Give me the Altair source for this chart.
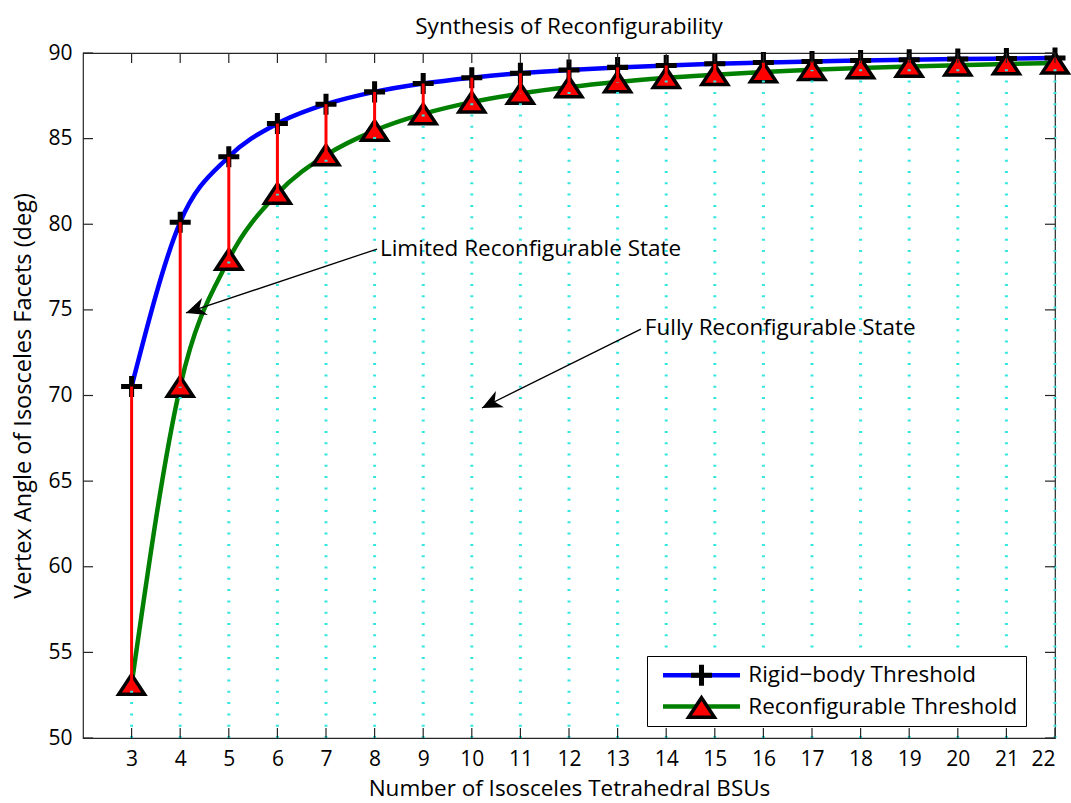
import altair as alt
import pandas as pd

# ---------------- data ----------------
N = list(range(3, 23))
RIGID = [70.53, 80.12, 83.94, 85.88, 87.01, 87.73, 88.22, 88.56, 88.82, 89.01,
         89.16, 89.27, 89.37, 89.44, 89.51, 89.56, 89.61, 89.65, 89.68, 89.71]
RECON = [53.13, 70.53, 77.95, 81.79, 84.04, 85.47, 86.44, 87.13, 87.63, 88.01,
         88.31, 88.55, 88.73, 88.89, 89.02, 89.12, 89.21, 89.29, 89.36, 89.41]
SERIES = ["Rigid\u2212body Threshold", "Reconfigurable Threshold"]
MARKERS = ["plus", "triangle"]

X_DOMAIN = [2, 22]
Y_DOMAIN = [50, 90]
X_TICKS = list(range(3, 23))
Y_TICKS = [50, 55, 60, 65, 70, 75, 80, 85, 90]

ANN_TEXT = ["Limited Reconfigurable State", "Fully Reconfigurable State"]
ANN_TX = [8.11, 13.56]
ANN_TY = [78.55, 73.94]
ARROW_X0 = [8.05, 13.48]
ARROW_Y0 = [78.55, 73.88]
ARROW_X1 = [4.12, 10.21]
ARROW_Y1 = [74.82, 69.27]
ARROW_ANGLE = [251.2, 243.6]

# ---------------- style ----------------
W, H = 972, 685
FONT = "Open Sans"
AXIS_COLOR = "#262626"
BIG = 22.5
PLUS_PATH = "M-1.03,-0.09H1.03V0.09H-1.03ZM-0.09,-1.03H0.09V1.03H-0.09Z"
TRI_PATH = "M0,-1.15L1.52,1.15L-1.52,1.15Z"
LINE_PATH = "M-4.81,0H4.81"
ARROW_PATH = "M0,0L0.45,1L0,0.7L-0.45,1Z"
MARK_SIZE = 289

long_df = pd.DataFrame({
    "n": N + N,
    "value": RIGID + RECON,
    "series": [SERIES[0]] * len(N) + [SERIES[1]] * len(N),
    "marker": [MARKERS[0]] * len(N) + [MARKERS[1]] * len(N),
})
wide_df = pd.DataFrame({"n": N, "rigid": RIGID, "recon": RECON,
                        "base": [Y_DOMAIN[0]] * len(N)})
xt_df = pd.DataFrame({"t": X_TICKS})
yt_df = pd.DataFrame({"t": Y_TICKS})
ann_df = pd.DataFrame({"text": ANN_TEXT, "x": ANN_TX, "y": ANN_TY})
arr_df = pd.DataFrame({"x0": ARROW_X0, "y0": ARROW_Y0, "x1": ARROW_X1,
                       "y1": ARROW_Y1, "angle": ARROW_ANGLE})

xs = alt.Scale(domain=X_DOMAIN, nice=False, zero=False)
ys = alt.Scale(domain=Y_DOMAIN, nice=False, zero=False)

x_axis = alt.Axis(values=X_TICKS, title="Number of Isosceles Tetrahedral BSUs",
                  grid=False, domain=False, ticks=False, labelFontSize=21,
                  titleFontSize=BIG, labelPadding=10, titlePadding=8,
                  labelFont=FONT, titleFont=FONT, labelColor="black",
                  titleColor="black", titleFontWeight="normal")
y_axis = alt.Axis(values=Y_TICKS, title="Vertex Angle of Isosceles Facets (deg)",
                  grid=False, domain=False, ticks=False, labelFontSize=21,
                  titleFontSize=23.5, labelPadding=11, titlePadding=12,
                  labelFont=FONT, titleFont=FONT, labelColor="black",
                  titleColor="black", titleFontWeight="normal")

leg_lines = alt.Legend(title=None, orient="none", legendX=564, legendY=603,
                       symbolType=LINE_PATH, symbolSize=256, symbolStrokeWidth=4.5,
                       symbolFillColor="transparent",
                       labelFont=FONT, labelFontSize=BIG, labelColor="black",
                       labelOffset=35.5, symbolOffset=35.25, padding=8, rowPadding=8.25,
                       strokeColor="black", fillColor="white", labelLimit=500)
leg_marks = alt.Legend(title=None, orient="none", legendX=564, legendY=603,
                       symbolSize=MARK_SIZE, symbolStrokeWidth=3.5,
                       symbolStrokeColor="black",
                       labelFont=FONT, labelFontSize=BIG, labelExpr="''",
                       labelOffset=35.5, symbolOffset=35.25, padding=8,
                       rowPadding=-1.75, labelLimit=500)

base = alt.Chart(long_df)

lines = base.mark_line(strokeWidth=4.5, interpolate="monotone").encode(
    x=alt.X("n:Q", scale=xs, axis=x_axis),
    y=alt.Y("value:Q", scale=ys, axis=y_axis),
    color=alt.Color("series:N", scale=alt.Scale(domain=SERIES, range=["#0000ff", "#008000"]),
                    legend=leg_lines),
)

markers = base.mark_point(filled=True, opacity=1, size=MARK_SIZE,
                          strokeWidth=3.5).encode(
    x=alt.X("n:Q"),
    y=alt.Y("value:Q"),
    shape=alt.Shape("marker:N", scale=alt.Scale(domain=MARKERS, range=[PLUS_PATH, TRI_PATH]),
                    legend=leg_marks),
    fill=alt.Fill("marker:N", scale=alt.Scale(domain=MARKERS, range=["black", "#ff0000"]),
                  legend=leg_marks),
    stroke=alt.Stroke("marker:N", scale=alt.Scale(domain=MARKERS, range=["black", "black"]),
                      legend=leg_marks),
)

cyan = alt.Chart(wide_df).mark_rule(color="#33e6e0", strokeWidth=3,
                                    strokeDash=[2, 9.3]).encode(
    x=alt.X("n:Q"), y=alt.Y("base:Q"), y2="recon:Q")

red = alt.Chart(wide_df).mark_rule(color="#ff0000", strokeWidth=3).encode(
    x=alt.X("n:Q"), y=alt.Y("recon:Q"), y2="rigid:Q")

tick_style = dict(color=AXIS_COLOR, strokeWidth=1.2)
bottom_ticks = alt.Chart(xt_df).mark_rule(**tick_style).encode(
    x=alt.X("t:Q"), y=alt.value(H), y2=alt.value(H - 10))
top_ticks = alt.Chart(xt_df).mark_rule(**tick_style).encode(
    x=alt.X("t:Q"), y=alt.value(0), y2=alt.value(10))
left_ticks = alt.Chart(yt_df).mark_rule(**tick_style).encode(
    y=alt.Y("t:Q"), x=alt.value(0), x2=alt.value(10))
right_ticks = alt.Chart(yt_df).mark_rule(**tick_style).encode(
    y=alt.Y("t:Q"), x=alt.value(W - 10), x2=alt.value(W))

ann_text = alt.Chart(ann_df).mark_text(align="left", baseline="middle", fontSize=BIG,
                                       font=FONT, color="black").encode(
    x=alt.X("x:Q"), y=alt.Y("y:Q"), text="text:N")

arrow_line = alt.Chart(arr_df).mark_rule(color="black", strokeWidth=1.3).encode(
    x=alt.X("x0:Q"), y=alt.Y("y0:Q"), x2="x1:Q", y2="y1:Q")

arrow_head = alt.Chart(arr_df).mark_point(shape=ARROW_PATH, filled=True, color="black",
                                          size=1600, opacity=1).encode(
    x=alt.X("x1:Q"), y=alt.Y("y1:Q"),
    angle=alt.Angle("angle:Q", scale=None))

chart = alt.layer(
    lines, markers, cyan, red, bottom_ticks, top_ticks, left_ticks, right_ticks,
    arrow_line, arrow_head, ann_text
).properties(
    width=W, height=H,
    title=alt.Title("Synthesis of Reconfigurability", fontSize=BIG, font=FONT,
                    fontWeight="normal", color="black", anchor="middle",
                    baseline="alphabetic", offset=-14),
    autosize=alt.AutoSizeParams(type="none"),
    padding={"left": 83, "top": 53, "right": 16, "bottom": 65},
    background="white",
).configure_view(stroke=AXIS_COLOR, strokeWidth=1.2)

chart.save("out.html", embed_options={"renderer": "svg", "actions": False})
